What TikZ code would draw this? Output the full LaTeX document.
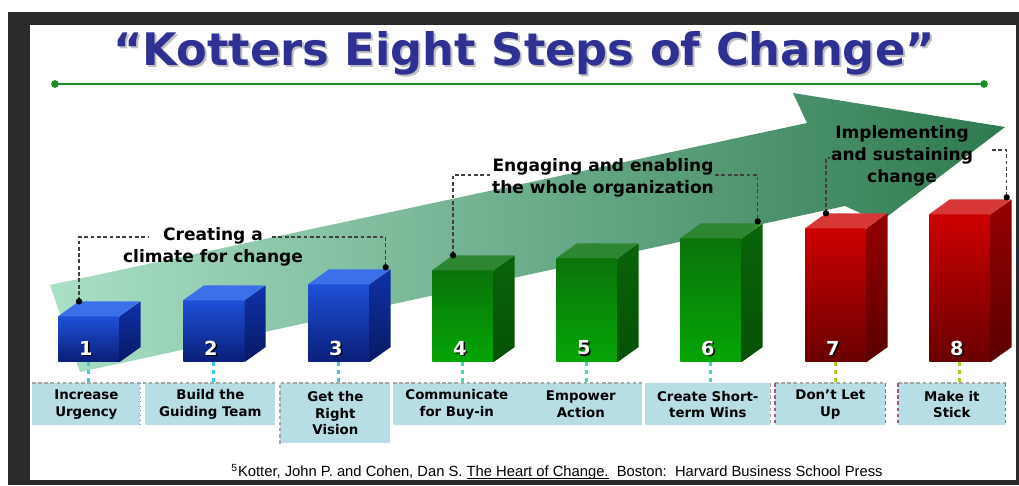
\documentclass[tikz,border=0pt]{standalone}
\usepackage{fontspec}
\setmainfont{DejaVu Sans}
\newfontfamily\notefont{Liberation Sans}
% thin underline kept close to the baseline
\newcommand\booktitle[1]{\setbox0\hbox{#1}\rlap{\rule[-1.3pt]{\wd0}{0.45pt}}\box0}

\definecolor{frame}{RGB}{42,42,42}
\definecolor{titleblue}{RGB}{46,49,146}
\definecolor{rulegreen}{RGB}{30,140,40}
\definecolor{arrowlight}{RGB}{170,224,198}
\definecolor{arrowdark}{RGB}{46,122,80}
\definecolor{blutop}{RGB}{60,112,235}
\definecolor{bluup}{RGB}{30,80,215}
\definecolor{bludown}{RGB}{10,30,120}
\definecolor{bluside}{RGB}{15,50,170}
\definecolor{bluside2}{RGB}{8,25,100}
\definecolor{grntop}{RGB}{45,135,50}
\definecolor{grnup}{RGB}{10,115,10}
\definecolor{grndown}{RGB}{5,165,5}
\definecolor{grnside}{RGB}{10,100,10}
\definecolor{grnside2}{RGB}{5,80,5}
\definecolor{redtop}{RGB}{215,55,55}
\definecolor{redup}{RGB}{205,0,0}
\definecolor{reddown}{RGB}{105,0,0}
\definecolor{redside}{RGB}{150,0,0}
\definecolor{redside2}{RGB}{90,0,0}
\definecolor{blustem}{RGB}{60,200,235}
\definecolor{grnstem}{RGB}{60,220,180}
\definecolor{redstem}{RGB}{170,205,40}
\definecolor{lblfill}{RGB}{183,222,228}
\definecolor{lbldot}{RGB}{100,135,210}
\definecolor{lblpink}{RGB}{160,90,120}

\begin{document}
\begin{tikzpicture}[x=0.02cm, y=-0.02cm,
		titletext/.style={font=\bfseries\fontsize{25.5}{30}\selectfont, inner sep=0pt},
		front/.style={anchor=south west, inner sep=0pt, minimum width=1.22cm},
		boxnum/.style={font=\bfseries\fontsize{11}{11}\selectfont, inner sep=0pt},
		lbl/.style={anchor=north west, fill=lblfill, inner sep=0pt, align=center, font=\bfseries\fontsize{7.6}{9.4}\selectfont},
		lbledge/.style={gray!70, line width=0.6pt, dash pattern=on 2pt off 1.5pt},
		head/.style={align=center, inner sep=0pt, font=\bfseries\fontsize{9.7}{12.4}\selectfont},
		bracket/.style={black!75, line width=0.7pt, dash pattern=on 2.2pt off 1.4pt},
		stem/.style={line width=1.6pt, dash pattern=on 2.5pt off 2pt}]
	\useasboundingbox (0,0) rectangle (1019,485);
	\fill[frame] (8,12) rectangle (1019,485);
	\fill[white] (30,25) rectangle (1016,480);

	% heading and rule
	\node[titletext, text=black!25] (titleshadow) at (526,55) {“Kotters Eight Steps of Change”};
	\node[titletext, text=titleblue] (title) at (524,53) {“Kotters Eight Steps of Change”};
	\draw[rulegreen, line width=1.4pt] (55,84) -- (984,84);
	\fill[rulegreen] (55,84) circle (2.2pt) (984,84) circle (2.2pt);

	% rising arrow behind the steps
	\shade[left color=arrowlight, right color=arrowdark] (50,285) -- (807,123) -- (793,93) -- (1005,127) -- (880,222) -- (845,206) -- (80,372) -- cycle;

	% the eight blocks
	\foreach \i/\x/\t/\cl in {1/58/317/blu, 2/183/301/blu, 3/308/285/blu, 4/432/271/grn, 5/556/259/grn, 6/680/239/grn, 7/805/229/red, 8/929/215/red}{
		\node[front, minimum height={(362-\t)*0.02cm}, top color=\cl up, bottom color=\cl down] (s\i) at (\x,362) {};
		\fill[\cl top] (s\i.north west) -- ++(21,-15) -- ++(61,0) -- (s\i.north east) -- cycle;
		\shade[top color=\cl side, bottom color=\cl side2] (s\i.north east) -- ++(21,-15) -- ([shift={(21,-15)}]s\i.south east) -- (s\i.south east) -- cycle;
		\coordinate (bl\i) at ([shift={(21,-15)}]s\i.north west);
		\coordinate (br\i) at ([shift={(16,-17)}]s\i.north east);
		\node[boxnum, text=black] (ns\i) at ([shift={(-1.5,-12.5)}]s\i.south) {\i};
		\node[boxnum, text=white] (n\i) at ([shift={(-3,-14)}]s\i.south) {\i};
	}

	% step names
	\foreach \i/\x/\w/\h/\txt in {1/32/108/42/{Increase\\Urgency}, 2/145/130/42/{Build the\\Guiding Team}, 3/280/110/60/{Get the\\Right\\Vision}, 4/393/127/42/{Communicate\\for Buy-in}, 5/519/123/42/{Empower\\Action}, 6/645/125/42/{Create Short-\\term Wins}, 7/775/110/42/{Don’t Let\\Up}, 8/898/107/42/{Make it\\Stick}}{
		\node[lbl, minimum width=\w*0.02cm, minimum height=\h*0.02cm] (l\i) at (\x,383) {\txt};
	}
	\draw[lbledge] (l1.north west) -- (l2.north east);
	\draw[lbldot, line width=0.6pt, dotted] (l1.north east) -- (l1.south east);
	\draw[lbledge] (l3.south west) -- (l3.north west) -- (l3.north east);
	\draw[lbledge] (l4.north west) -- (l5.north east);
	\draw[lbledge] (l6.north east) -- (l6.south east);
	\foreach \i in {7, 8}{
		\draw[lbledge] (l\i.north west) -- (l\i.north east);
		\draw[lbledge, lblpink] (l\i.north west) -- (l\i.south west) (l\i.north east) -- (l\i.south east);
	}

	% stems from blocks down to the names
	\foreach \i/\cl in {1/blu, 2/blu, 3/blu, 4/grn, 5/grn, 6/grn, 7/red, 8/red}{
		\draw[stem, \cl stem] (s\i.south) -- (s\i.south |- l\i.north);
	}

	% phase headings
	\node[head] (h1) at (213,247) {Creating a\\climate for change};
	\node[head] (h2) at (603,178) {Engaging and enabling\\the whole organization};
	\node[head] (h3) at (902,156) {Implementing\\and sustaining\\change};

	\coordinate (k1) at (148,237);
	\coordinate (k2) at (272,237);
	\coordinate (k3) at (490,175);
	\coordinate (k4) at (715,175);
	\coordinate (k5) at (830,158);
	\coordinate (k6) at (992,150);
	\draw[bracket] (bl1) |- (k1);
	\draw[bracket] (k2) -| (br3);
	\draw[bracket] (bl4) |- (k3);
	\draw[bracket] (k4) -| (br6);
	\draw[bracket] (bl7) |- (k5);
	\draw[bracket] (k6) -| (br8);
	\foreach \p in {bl1, br3, bl4, br6, bl7, br8}{
		\fill (\p) circle (1.8pt);
	}

	\node[inner sep=0pt, font=\notefont\fontsize{8.4}{9}\selectfont] (src) at (557,472) {\textsuperscript{5}Kotter, John P. and Cohen, Dan S. \booktitle{The Heart of Change.}\ \ Boston:\ \ Harvard Business School Press};
\end{tikzpicture}
\end{document}
